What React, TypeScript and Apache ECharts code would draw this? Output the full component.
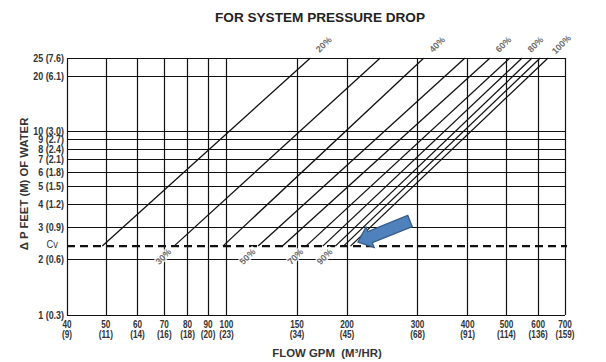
import React, { useEffect, useRef } from 'react';
import * as echarts from 'echarts';

const titleText = 'FOR SYSTEM PRESSURE DROP';
const xTitleText = 'FLOW GPM  (M³/HR)';
const yTitleText = 'Δ P FEET (M) OF WATER';

const flowTicks = [40, 50, 60, 70, 80, 90, 100, 150, 200, 300, 400, 500, 600, 700];
const flowMetricLabels = ['9', '11', '14', '16', '18', '20', '23', '34', '45', '68', '91', '114', '136', '159'];
const dpTicks = [1, 2, 3, 4, 5, 6, 7, 8, 9, 10, 20, 25];
const dpMetricLabels = ['0.3', '0.6', '0.9', '1.2', '1.5', '1.8', '2.1', '2.4', '2.7', '3.0', '6.1', '7.6'];

const cvLevel = 2.37;
const cvLabel = 'Cv';
const cvLineStartFlow = 40;
const cvLineEndFlow = 800;
const topLevel = 25;

const lineStartFlow = [49, 74, 98, 120, 138, 158, 174, 187, 196, 204];
const lineEndFlow = [162, 242, 311, 394, 455, 510, 547, 579, 607, 635];
const lineLabels = ['20%', '30%', '40%', '50%', '60%', '70%', '80%', '90%', '', '100%'];
const labelAtTop = [true, false, true, false, true, false, true, false, false, true];

const SANS = "'Liberation Sans', Arial, Helvetica, sans-serif";

function arrowPoints(tip: number[], tail: number[]) {
  const dx = tail[0] - tip[0];
  const dy = tail[1] - tip[1];
  const len = Math.sqrt(dx * dx + dy * dy);
  const u = [dx / len, dy / len];
  const v = [-u[1], u[0]];
  const local = [[0, 0], [13, -11], [13, -6], [len, -6], [len, 6], [13, 6], [13, 11]];
  return local.map(([a, b]) => [tip[0] + a * u[0] + b * v[0], tip[1] + a * u[1] + b * v[1]]);
}

export default function App() {
  const ref = useRef<HTMLDivElement>(null);

  useEffect(() => {
    document.body.style.margin = '0';
    if (!ref.current) return;
    const chart = echarts.init(ref.current, undefined, { renderer: 'svg' });

    const lineSeries = lineStartFlow.map((s, i) => ({
      type: 'line',
      name: lineLabels[i] || 'line' + i,
      data: [[s, cvLevel], [lineEndFlow[i], topLevel]],
      showSymbol: false,
      symbol: 'none',
      silent: true,
      lineStyle: { color: '#111', width: 1.3 },
      z: 3,
    }));

    const labelData: any[] = [];
    lineLabels.forEach((t, i) => {
      if (!t) return;
      if (labelAtTop[i]) {
        labelData.push({ value: [lineEndFlow[i], topLevel], label: { formatter: t, offset: [19, 0] } });
      } else {
        labelData.push({
          value: [lineStartFlow[i], cvLevel],
          label: { formatter: t, offset: [-15, 0], backgroundColor: '#fff', padding: [0, 2] },
        });
      }
    });

    const hLines = dpTicks.map((v) => ({ yAxis: v }));
    const vLines = flowTicks.map((v) => ({ xAxis: v }));

    chart.setOption({
      animation: false,
      grid: { left: 67, right: 41, top: 58, bottom: 47 },
      xAxis: {
        type: 'log', logBase: 10, min: 40, max: 700,
        axisLine: { show: false }, axisTick: { show: false }, axisLabel: { show: false }, splitLine: { show: false },
      },
      yAxis: {
        type: 'log', logBase: 10, min: 1, max: 25,
        axisLine: { show: false }, axisTick: { show: false }, axisLabel: { show: false }, splitLine: { show: false },
      },
      series: [
        {
          type: 'line', data: [], silent: true, z: 2,
          markLine: {
            silent: true, symbol: ['none', 'none'], animation: false,
            lineStyle: { color: '#111', width: 1.2, type: 'solid' },
            label: { show: false },
            emphasis: { disabled: true },
            data: [...hLines, ...vLines],
          },
        },
        {
          type: 'line', name: 'cv', silent: true, clip: false, z: 4,
          showSymbol: false, symbol: 'none',
          data: [[cvLineStartFlow, cvLevel], [cvLineEndFlow, cvLevel]],
          lineStyle: { color: '#111', width: 2.3, type: [8, 5] },
        },
        ...lineSeries,
        {
          type: 'scatter', silent: true, symbolSize: 1, z: 5,
          itemStyle: { color: 'rgba(0,0,0,0)' },
          label: {
            show: true, position: 'inside', rotate: 45,
            fontFamily: SANS, fontWeight: 'bold', fontSize: 9, color: '#444',
          },
          data: labelData,
        },
      ],
    });

    const px = (x: number) => chart.convertToPixel({ xAxisIndex: 0 }, x) as number;
    const py = (y: number) => chart.convertToPixel({ yAxisIndex: 0 }, y) as number;
    const x0 = px(flowTicks[0]);
    const y0 = py(dpTicks[0]);

    const graphics: any[] = [
      {
        type: 'text', x: 320, y: 17, z: 10,
        style: { text: titleText, font: `bold 13.6px ${SANS}`, fill: '#222', align: 'center', verticalAlign: 'middle' },
      },
      {
        type: 'text', x: 327, y: 353, z: 10,
        style: { text: xTitleText, font: `bold 11.4px ${SANS}`, fill: '#333', align: 'center', verticalAlign: 'middle' },
      },
      {
        type: 'text', x: 24, y: 184, rotation: Math.PI / 2, z: 10,
        style: { text: yTitleText, font: `bold 11.3px ${SANS}`, fill: '#333', align: 'center', verticalAlign: 'middle' },
      },
    ];
    dpTicks.forEach((v, i) => {
      graphics.push({
        type: 'text', x: x0 - 3, y: py(v), scaleX: 0.85, z: 10,
        style: { text: `${v} (${dpMetricLabels[i]})`, font: `bold 10.5px ${SANS}`, fill: '#333', align: 'right', verticalAlign: 'middle' },
      });
    });
    flowTicks.forEach((v, i) => {
      graphics.push({
        type: 'text', x: px(v), y: y0 + 5, scaleX: 0.82, z: 10,
        style: { text: `${v}\n(${flowMetricLabels[i]})`, font: `bold 10px ${SANS}`, lineHeight: 10, fill: '#333', align: 'center', verticalAlign: 'top' },
      });
    });
    graphics.push({
      type: 'text', x: x0 - 9, y: py(cvLevel) - 2, scaleX: 0.85, z: 10,
      style: { text: cvLabel, font: `11px ${SANS}`, fill: '#333', align: 'right', verticalAlign: 'middle' },
    });
    graphics.push({
      type: 'polygon', z: 20,
      shape: { points: arrowPoints([358, 242], [410, 221]) },
      style: { fill: '#4f81bd', stroke: '#385d8a', lineWidth: 1.3 },
    });

    chart.setOption({ graphic: graphics });

    return () => chart.dispose();
  }, []);

  return <div ref={ref} style={{ width: 606, height: 362 }} />;
}
